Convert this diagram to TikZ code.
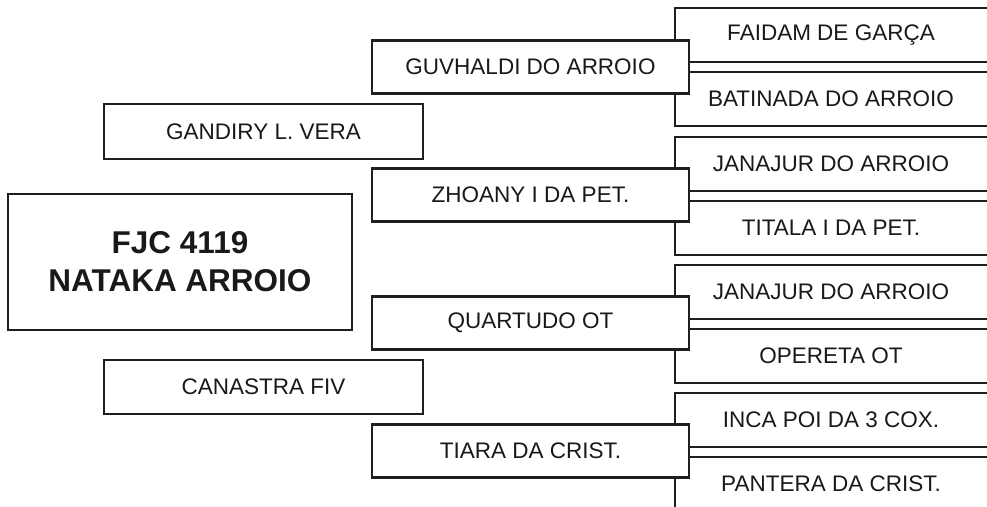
\documentclass[tikz,border=0pt]{standalone}
\usepackage{fontspec}
\setmainfont{Liberation Sans}
\begin{document}
\begin{tikzpicture}[x=1pt,y=-1pt,
  line width=2.6pt, color=black!88,
  box/.style={draw, fill=white, rectangle, inner sep=0pt, line width=2.6pt},
  lbl/.style={font=\fontsize{22.5}{24}\selectfont, inner sep=0pt, text=black!90},
]
\useasboundingbox (0,0) rectangle (987,506);
\clip (0,0) rectangle (987,506);
% third generation (open to the right)
\foreach \t/\na/\nb/\ta/\tb in {8/ga/gb/{FAIDAM DE GARÇA}/{BATINADA DO ARROIO},
                               137/gc/gd/{JANAJUR DO ARROIO}/{TITALA I DA PET.},
                               265/ge/gf/{JANAJUR DO ARROIO}/{OPERETA OT},
                               393/gg/gh/{INCA POI DA 3 COX.}/{PANTERA DA CRIST.}}{
  \draw (1000,\t) -- (675,\t) -- (675,\t+54) -- (1000,\t+54);
  \draw (1000,\t+64) -- (675,\t+64) -- (675,\t+118) -- (1000,\t+118);
  \node[lbl] (\na) at (831,\t+27) {\ta};
  \node[lbl] (\nb) at (831,\t+91) {\tb};
}
% second generation
\foreach \c/\n/\txt in {67/pa/{GUVHALDI DO ARROIO}, 195/pb/{ZHOANY I DA PET.},
                        323/pc/{QUARTUDO OT}, 451/pd/{TIARA DA CRIST.}}{
  \node[box, minimum width=317pt, minimum height=53pt] (\n) at (530.5,\c) {};
  \node[lbl] at (\n.center) {\txt};
}
% first generation
\node[box, minimum width=319pt, minimum height=55pt] (sire) at (263.5,131.5) {};
\node[lbl] at (sire.center) {GANDIRY L. VERA};
\node[box, minimum width=319pt, minimum height=54pt] (dam) at (263.5,387) {};
\node[lbl] at (dam.center) {CANASTRA FIV};
% subject
\node[box, minimum width=344pt, minimum height=136pt] (main) at (180,262) {};
\node[font=\fontsize{31.5}{38}\selectfont\bfseries, align=center, inner sep=0pt, text=black!90] at (main.center) {FJC 4119\\NATAKA ARROIO};
\end{tikzpicture}
\end{document}
